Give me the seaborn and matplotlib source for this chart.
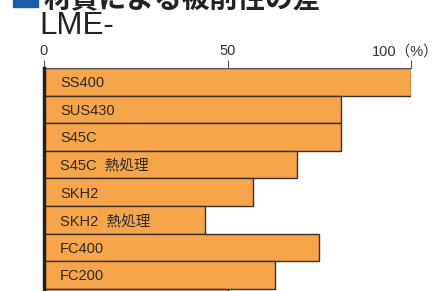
import numpy as np
import matplotlib
matplotlib.use("Agg")
import matplotlib.pyplot as plt
import matplotlib.patches as mpatches
import matplotlib.transforms as mtransforms
import seaborn as sns
import pandas as pd

# data (machinability index, %)
materials = ["SS400", "SUS430", "S45C", "S45C  熱処理", "SKH2",
             "SKH2  熱処理", "FC400", "FC200", ""]
values = [100, 81, 81, 69, 57, 44, 75, 63, 50]
tick_values = [0, 50, 100]
tick_labels = ["0", "50", "100（%）"]

title_top = "材質による被削性の差"
title_sub = "LME-"

sns.set_style("white")
plt.rcParams["font.family"] = ["Liberation Sans", "Noto Sans CJK JP", "DejaVu Sans"]

df = pd.DataFrame({"material": materials, "value": values})

W, H = 439, 291
fig = plt.figure(figsize=(W / 100, H / 100), dpi=100)
ax = fig.add_axes([44 / W, 0, (411 - 44) / W, 1 - 68 / H])

sns.barplot(data=df, x="value", y="material", orient="h", ax=ax,
            color="#f7a54a", saturation=1, width=1.0,
            edgecolor="#3a3028", linewidth=1.0)

ax.set_xlim(0, 100)
ax.set_ylim(7.58, -0.5)
ax.set_xlabel("")
ax.set_ylabel("")
ax.set_yticks([])

ax.xaxis.tick_top()
ax.set_xticks(tick_values)
ax.set_xticklabels(tick_labels)
ax.tick_params(axis="x", direction="out", length=6, width=0.8, color="#555555",
               labelsize=10.5, labelcolor="#333333", pad=1)
# the "100（%）" label sits a little left of its tick
last = ax.get_xticklabels()[-1]
last.set_transform(last.get_transform() +
                   mtransforms.ScaledTranslation(-6 / 100, 0, fig.dpi_scale_trans))

for side in ["right", "bottom"]:
    ax.spines[side].set_visible(False)
ax.spines["top"].set_color("#555555")
ax.spines["top"].set_linewidth(0.8)
ax.spines["left"].set_color("#222222")
ax.spines["left"].set_linewidth(2.5)
ax.spines["left"].set_zorder(5)

# labels written inside the bars
for i, name in enumerate(materials):
    if name:
        ax.text(4.4, i + 0.05, name, ha="left", va="center",
                fontsize=10.5, color="#2a2a2a")

# heading (cut off at the top edge in the reference)
fig.patches.append(mpatches.Rectangle((13 / W, 1 - 7 / H), 25 / W, 20 / H,
                                      transform=fig.transFigure,
                                      color="#1d5cab", clip_on=False))
fig.text(44 / W, 1 - 7 / H, title_top, fontsize=20, color="#222222",
         fontweight="bold", ha="left", va="baseline")
fig.text(39 / W, 1 - 34 / H, title_sub, fontsize=22.5, color="#222222",
         ha="left", va="baseline")

fig.savefig("out.png", dpi=100)
